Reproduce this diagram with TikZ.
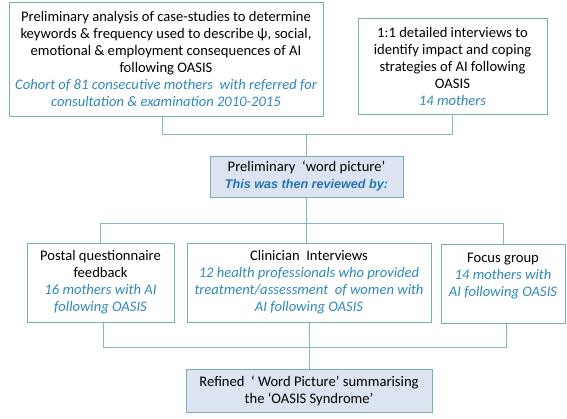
\documentclass[tikz,border=0pt]{standalone}
\usepackage{fontspec}
\setmainfont{Carlito}
\newfontfamily\arialfont{Liberation Sans}
\definecolor{bordc}{HTML}{78AEBA}
\definecolor{linec}{HTML}{86B8C2}
\definecolor{txtblue}{HTML}{2F88B8}
\definecolor{darkblue}{HTML}{2474B0}
\definecolor{fillblue}{HTML}{DCE4F1}
\begin{document}
\begin{tikzpicture}[x=1pt,y=-1pt,
  box/.style={draw=bordc, line width=1pt, align=center, inner sep=0pt,
              font=\fontsize{14.6}{17}\selectfont},
  conn/.style={draw=linec, line width=1pt}]
\useasboundingbox (0,0) rectangle (567,418);

\node[box, minimum width=314pt, minimum height=114pt] (b1) at (166,59)
 {Preliminary analysis of case-studies to determine\\
  keywords \& frequency used to describe ψ, social,\\
  emotional \& employment consequences of AI\\
  following OASIS\\
  \color{txtblue}\itshape Cohort of 81 consecutive mothers\ \ with referred for\\
  \color{txtblue}\itshape consultation \& examination 2010-2015};

\node[box, minimum width=189pt, minimum height=96pt] (b2) at (452.5,66)
 {1:1 detailed interviews to\\
  identify impact and coping\\
  strategies of AI following\\
  OASIS\\
  \color{txtblue}\itshape 14 mothers};

\node[box, fill=fillblue, minimum width=193pt, minimum height=41pt] (mid) at (306.5,176.5)
 {Preliminary\ \ ‘word picture’\\
  {\arialfont\fontsize{12.6}{17}\selectfont\bfseries\itshape\color{darkblue} This was then reviewed by:}};

\node[box, minimum width=147pt, minimum height=79pt] (postal) at (100.5,282.5)
 {Postal questionnaire\\
  feedback\\
  \color{txtblue}\itshape 16 mothers with AI\\
  \color{txtblue}\itshape following OASIS};

\node[box, minimum width=244pt, minimum height=79pt] (clin) at (309,282.5)
 {Clinician\ \ Interviews\\
  \color{txtblue}\itshape 12 health professionals who provided\\
  \color{txtblue}\itshape treatment/assessment\ \ of women with\\
  \color{txtblue}\itshape AI following OASIS};

\node[box, minimum width=124pt, minimum height=79pt] (focus) at (503,283.5)
 {Focus group\\
  \color{txtblue}\itshape 14 mothers with\\
  \color{txtblue}\itshape AI following OASIS\\
  \mbox{}};

\node[box, fill=fillblue, minimum width=246pt, minimum height=43pt] (refined) at (309,390.5)
 {Refined\ \ ‘ Word Picture’ summarising\\
  the ‘OASIS Syndrome’};

% connectors
\coordinate (j1) at (306.5,134);
\draw[conn] ([xshift=-4pt]b1.south) |- (j1);
\draw[conn] (b2.south) |- (j1);
\draw[conn] (j1) -- (mid.north);

\coordinate (j2) at (306.5,223);
\draw[conn] (mid.south) -- (mid.south |- clin.north);
\draw[conn] (postal.north) |- (j2);
\draw[conn] (focus.north) |- (j2);

\coordinate (j3) at (309,347);
\draw[conn] ([xshift=3pt]postal.south) |- (j3);
\draw[conn] ([xshift=3pt]focus.south) |- (j3);
\draw[conn] (clin.south) -- (refined.north);
\end{tikzpicture}
\end{document}
